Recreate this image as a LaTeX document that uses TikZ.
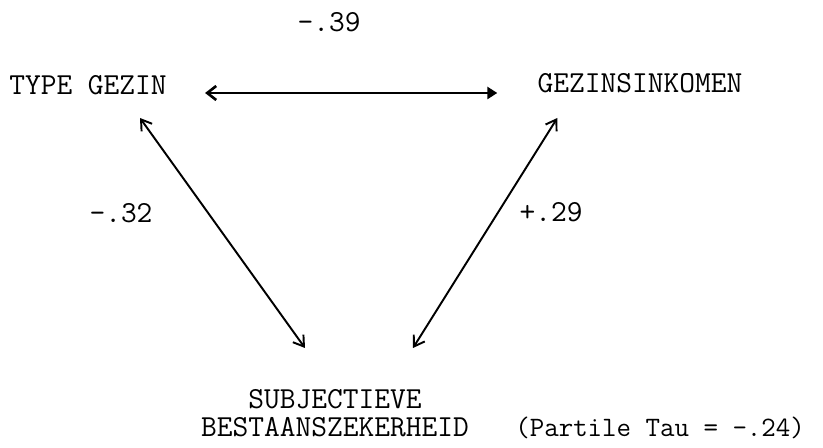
\documentclass[tikz,border=0pt]{standalone}
\usepackage{fontspec}
\usepackage{tikz}
\usetikzlibrary{positioning, arrows.meta}

\begin{document}
\begin{tikzpicture}[x=0.02cm, y=-0.02cm,
    var/.style={font=\ttfamily\fontsize{17.4}{14.4}\selectfont, inner sep=0pt},
    coef/.style={font=\ttfamily\fontsize{17.4}{14.4}\selectfont, inner sep=0pt},
    link/.style={line width=1.1pt, {Straight Barb[length=2mm,width=2.6mm]}-{Straight Barb[length=2mm,width=2.6mm]}}]
  \useasboundingbox (0,0) rectangle (823,448);
  % variables
  \node[var, anchor=base] (gezin) at (88,95) {TYPE GEZIN};
  \node[var, anchor=base] (inkomen) at (640,93) {GEZINSINKOMEN};
  \node[var, anchor=base] (subj) at (335,409) {SUBJECTIEVE};
  \node[var, anchor=base] (zekerheid) at (335,437) {BESTAANSZEKERHEID};
  \node[coef, anchor=base west, font=\ttfamily\fontsize{16}{14.4}\selectfont] (tau) at (515,437) {(Partile Tau = -.24)};
  % coefficients
  \node[coef, anchor=base] (r39) at (329,32) {-.39};
  \node[coef, anchor=base] (r32) at (121,223) {-.32};
  \node[coef, anchor=base] (r29) at (551,222) {+.29};
  % links
  \draw[line width=1.5pt, {Straight Barb[length=1.8mm,width=2.8mm]}-{Triangle[length=2mm,width=2.4mm]}]
    ([shift={(38,-2)}]gezin.base east) -- ([shift={(-40,0)}]inkomen.base west);
  \draw[link] ([shift={(52,23)}]gezin.base) -- ([shift={(-30,-61)}]subj.base);
  \draw[link] ([shift={(20,25)}]inkomen.base west) -- ([shift={(78,-61)}]subj.base);
\end{tikzpicture}
\end{document}
